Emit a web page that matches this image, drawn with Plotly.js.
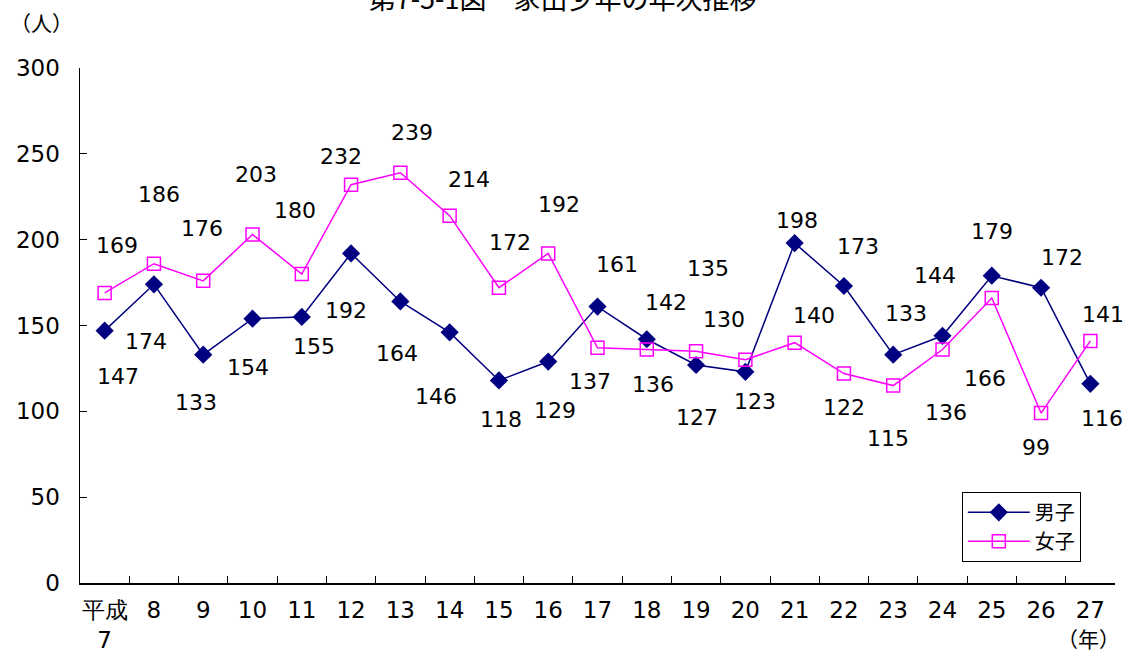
<!DOCTYPE html>
<html><head><meta charset="utf-8">
<script src="https://cdn.plot.ly/plotly-3.0.1.min.js"></script>
<style>body{margin:0;background:#fff}#c{width:1132px;height:653px}</style>
</head><body><div id="c"></div>
<script>
const years = ["平成<br>7","8","9","10","11","12","13","14","15","16","17","18","19","20","21","22","23","24","25","26","27"];
const male = [147,174,133,154,155,192,164,146,118,129,161,142,127,123,198,173,133,144,179,172,116];
const female = [169,186,176,203,180,232,239,214,172,192,137,136,135,130,140,122,115,136,166,99,141];

// label offsets in pixels (dx, dy down)
const maleOff = [[13,46],[-8,57],[-7,48],[-5,49],[12,30],[-5,57],[-3,52],[-14,64],[2,39],[7,49],[19,-42],[19,-37],[1,53],[10,30],[2,-23],[14,-40],[13,-41],[-8,-60],[0,-44],[21,-30],[12,35]];
const femOff = [[12,-47],[5,-69],[-1,-52],[3,-60],[-7,-64],[-10,-28],[12,-40],[19,-36],[11,-45],[11,-49],[-8,34],[6,35],[12,-83],[-21,-40],[19,-27],[0,34],[-5,53],[3,63],[-7,80],[-5,34],[13,-26]];

const numFont = {family:"DejaVu Sans, sans-serif", size:22, color:"#000"};
const tickFont = {family:"DejaVu Sans, sans-serif", size:23, color:"#000"};
const jpFont = {family:"Noto Sans CJK JP, sans-serif", size:20, color:"#000"};
const unitFont = {family:"Noto Sans CJK JP, sans-serif", size:21, color:"#000"};

const traces = [
 {x:years, y:male, name:"男子", type:"scatter", mode:"lines+markers",
  line:{color:"#000080", width:1.5},
  marker:{symbol:"diamond", size:14, color:"#000080"}},
 {x:years, y:female, name:"女子", type:"scatter", mode:"lines+markers",
  line:{color:"#FF00FF", width:1.5},
  marker:{symbol:"square-open", size:13, color:"#FF00FF", line:{width:1.5}}}
];

const ann = [];
male.forEach((v,i)=>ann.push({x:i, y:v, xref:"x", yref:"y", text:String(v), showarrow:false,
  xshift:maleOff[i][0], yshift:-maleOff[i][1], font:numFont, bgcolor:"rgba(255,255,255,1)", borderpad:0}));
female.forEach((v,i)=>ann.push({x:i, y:v, xref:"x", yref:"y", text:String(v), showarrow:false,
  xshift:femOff[i][0], yshift:-femOff[i][1], font:numFont, bgcolor:"rgba(255,255,255,1)", borderpad:0}));
ann.push({xref:"paper", yref:"paper", x:-0.07, y:1.09, xanchor:"left", yanchor:"middle", text:"（人）", showarrow:false, font:unitFont});
ann.push({xref:"paper", yref:"paper", x:1.007, y:-0.106, xanchor:"right", yanchor:"middle", text:"（年）", showarrow:false, font:unitFont});

const layout = {
 width:1132, height:653,
 margin:{l:80, r:17, t:68, b:70},
 paper_bgcolor:"#fff", plot_bgcolor:"#fff",
 title:{text:"第7-5-1図　家出少年の年次推移", x:0.497, xanchor:"center", y:1.0, yref:"container", yanchor:"middle",
   font:{family:"Noto Sans CJK JP, sans-serif", size:27, color:"#000"}, pad:{t:0,b:0}},
 showlegend:true,
 legend:{x:0.852, y:0.177, xanchor:"left", yanchor:"top", bordercolor:"#000", borderwidth:1, bgcolor:"#fff",
   font:jpFont, tracegroupgap:0, itemwidth:62},
 xaxis:{type:"category", range:[-0.5,20.5], autorange:false, showline:true, linecolor:"#000", linewidth:1.5, ticks:"inside", tickson:"boundaries",
   ticklen:7, tickcolor:"#000", showgrid:false, zeroline:false, tickfont:tickFont, tickangle:0, ticklabelstandoff:6, fixedrange:true},
 yaxis:{range:[0,300], autorange:false, dtick:50, showline:true, linecolor:"#000", linewidth:1.5, ticks:"inside", ticklen:7,
   tickcolor:"#000", showgrid:false, zeroline:false, tickfont:tickFont, ticklabelstandoff:14, fixedrange:true},
 annotations:ann
};
Plotly.newPlot("c", traces, layout, {displayModeBar:false, staticPlot:true});
</script></body></html>
